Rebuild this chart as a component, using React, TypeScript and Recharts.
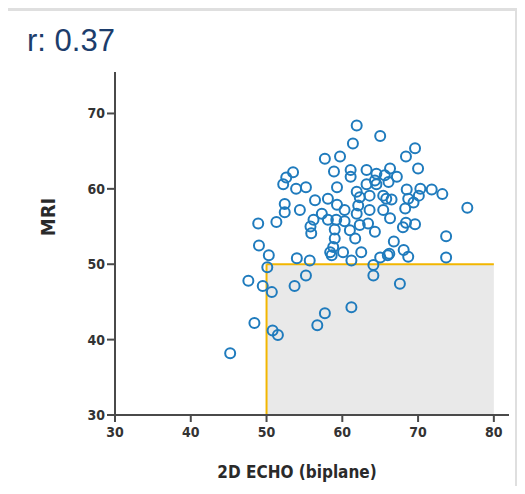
import { ScatterChart, Scatter, XAxis, YAxis, ReferenceArea, ReferenceLine, Label } from "recharts"

// 2D echo (biplane) vs MRI measurements, one entry per patient
const echoValues = [
  45.2, 47.6, 48.4, 48.9, 49.0, 49.5, 50.1, 50.3, 50.7, 50.8,
  51.5, 51.3, 52.2, 52.6, 53.5, 53.9, 55.2, 52.4, 52.4, 54.4,
  53.7, 55.2, 54.0, 55.7, 56.4, 57.7, 59.7, 61.4, 61.9, 65.0,
  58.9, 61.1, 61.1, 63.2, 64.5, 65.6, 59.3, 58.1, 59.3, 60.3,
  57.3, 58.1, 56.2, 55.8, 55.9, 59.2, 60.3, 59.0, 61.0, 62.3,
  63.4, 64.3, 62.1, 61.9, 63.6, 65.4, 65.8, 61.9, 63.2, 64.5,
  65.4, 61.7, 59.0, 58.8, 58.4, 58.6, 60.1, 62.5, 61.2, 64.1,
  64.1, 65.0, 66.0, 67.6, 61.2, 57.7, 56.7, 69.6, 68.4, 70.0,
  66.3, 67.2, 68.5, 70.3, 71.8, 73.2, 70.1, 68.7, 69.4, 66.5,
  76.5, 68.3, 73.7, 73.7, 66.3, 68.4, 69.6, 68.0, 66.8, 66.2,
  68.1, 68.7, 63.6, 62.3, 64.3, 66.1,
]

const mriValues = [
  38.2, 47.8, 42.2, 55.4, 52.5, 47.1, 49.6, 51.2, 46.3, 41.2,
  40.6, 55.6, 60.6, 61.5, 62.2, 60.0, 60.2, 58.0, 56.9, 57.2,
  47.1, 48.5, 50.8, 50.5, 58.5, 64.0, 64.3, 66.0, 68.4, 67.0,
  62.3, 62.5, 61.6, 62.5, 62.0, 61.8, 60.2, 58.7, 57.9, 57.2,
  56.7, 55.9, 55.9, 55.0, 54.1, 55.9, 55.7, 54.6, 54.5, 55.2,
  55.4, 54.3, 57.8, 56.7, 57.2, 57.2, 58.7, 59.6, 60.6, 60.6,
  59.1, 53.4, 53.4, 52.3, 51.6, 51.2, 51.6, 51.6, 50.5, 49.9,
  48.5, 50.9, 51.2, 47.4, 44.3, 43.5, 41.9, 65.4, 64.3, 62.7,
  62.7, 61.6, 59.9, 60.0, 59.9, 59.3, 59.1, 58.7, 58.2, 58.6,
  57.5, 57.4, 53.7, 50.9, 56.1, 55.5, 55.3, 54.9, 53.0, 51.4,
  51.9, 51.0, 59.1, 58.9, 61.1, 60.9,
]

const xTicks = [30, 40, 50, 60, 70, 80]
const yTicks = [30, 40, 50, 60, 70]

// threshold box: echo >= 50 and MRI <= 50
const cutEcho = 50
const cutMri = 50

const points = echoValues.map((x, i) => ({ x, y: mriValues[i] }))

const axisFont = "'Liberation Sans Narrow', 'DejaVu Sans Condensed', 'Arial Narrow', sans-serif"
const tickStyle = { fontFamily: axisFont, fontSize: 14, fontWeight: 700, fill: "#333" }

const Ring = (props: any) => {
  const { cx, cy } = props
  if (cx == null || cy == null) return null
  return <circle cx={cx} cy={cy} r={5} fill="none" stroke="#1f7bbd" strokeWidth={2} />
}

export default function App() {
  return (
    <div style={{ position: "relative", width: 525, height: 494, margin: -8, background: "#dfdfdf", overflow: "hidden" }}>
      <div style={{ position: "absolute", left: 7, top: 11, width: 508, height: 483, background: "#fff" }} />
      <div
        style={{
          position: "absolute",
          left: 27,
          top: 23,
          fontFamily: "'Liberation Sans', Arial, sans-serif",
          fontSize: 31,
          lineHeight: "36px",
          color: "#1c3d6c",
        }}
      >
        r: 0.37
      </div>
      <div style={{ position: "absolute", left: 0, top: 0 }}>
        <ScatterChart width={525} height={494} margin={{ top: 72, right: 16, left: 0, bottom: 0 }}>
          <XAxis
            type="number"
            dataKey="x"
            domain={[30, 82]}
            ticks={xTicks}
            allowDataOverflow
            height={79}
            tickSize={7}
            tickMargin={5}
            tick={tickStyle}
            axisLine={{ stroke: "#4a4a4a", strokeWidth: 2 }}
            tickLine={{ stroke: "#4a4a4a", strokeWidth: 2 }}
          >
            <Label
              content={() => (
                <text x={297} y={478} textAnchor="middle" fontFamily={axisFont} fontSize={17} fontWeight={700} fill="#2a2a2a">
                  2D ECHO (biplane)
                </text>
              )}
            />
          </XAxis>
          <YAxis
            type="number"
            dataKey="y"
            domain={[30, 75.5]}
            ticks={yTicks}
            allowDataOverflow
            width={115}
            tickSize={8}
            tickMargin={2}
            tick={tickStyle}
            axisLine={{ stroke: "#4a4a4a", strokeWidth: 2 }}
            tickLine={{ stroke: "#4a4a4a", strokeWidth: 2 }}
          >
            <Label
              content={() => (
                <text
                  x={55}
                  y={217}
                  transform="rotate(-90 55 217)"
                  textAnchor="middle"
                  fontFamily={axisFont}
                  fontSize={20}
                  fontWeight={700}
                  fill="#2a2a2a"
                >
                  MRI
                </text>
              )}
            />
          </YAxis>
          <ReferenceArea x1={cutEcho} x2={80} y1={30} y2={cutMri} fill="#e9e9e9" fillOpacity={1} stroke="none" />
          <ReferenceLine segment={[{ x: cutEcho, y: 30 }, { x: cutEcho, y: cutMri }]} stroke="#f2b600" strokeWidth={2} />
          <ReferenceLine segment={[{ x: cutEcho, y: cutMri }, { x: 80, y: cutMri }]} stroke="#f2b600" strokeWidth={2} />
          <Scatter data={points} shape={Ring} isAnimationActive={false} />
        </ScatterChart>
      </div>
    </div>
  )
}
